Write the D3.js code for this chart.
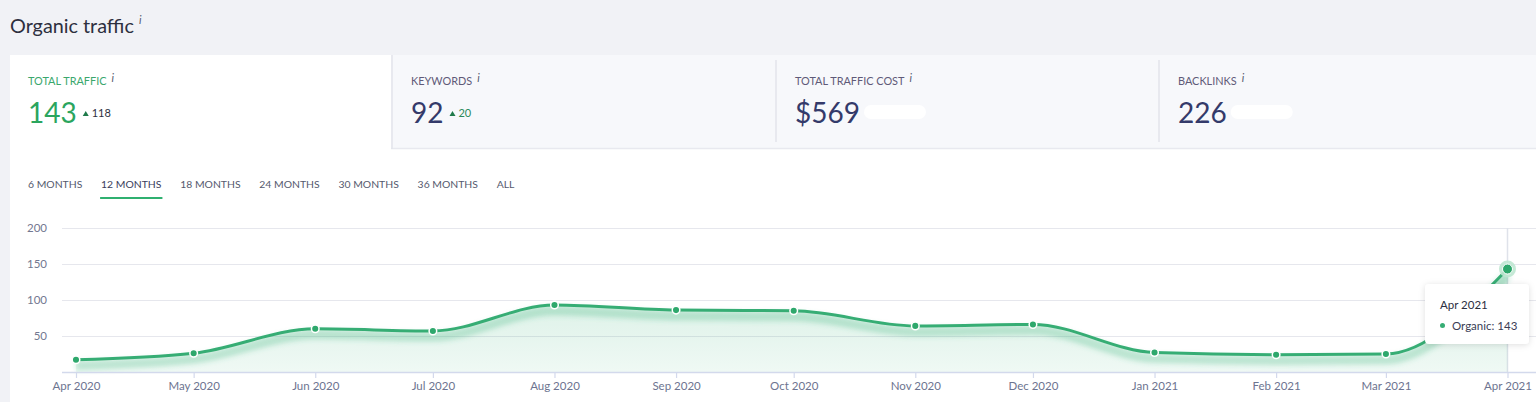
<!DOCTYPE html>
<html>
<head>
<meta charset="utf-8">
<script src="https://cdn.jsdelivr.net/npm/d3@7"></script>
<style>
  html, body { margin: 0; padding: 0; background: #f1f2f6; overflow: hidden; }
  svg { display: block; font-family: Lato, "Open Sans", sans-serif; }
</style>
</head>
<body>
<svg id="chart" width="1536" height="402"></svg>
<script>
// ---- data ----
const months = ["2020-04","2020-05","2020-06","2020-07","2020-08","2020-09","2020-10","2020-11","2020-12","2021-01","2021-02","2021-03","2021-04"];
const organic = [17, 26, 60, 57, 93, 86, 85, 64, 66, 27, 24, 25, 143];
const yTicks = [50, 100, 150, 200];
const tabs = ["6 MONTHS","12 MONTHS","18 MONTHS","24 MONTHS","30 MONTHS","36 MONTHS","ALL"];
const activeTab = "12 MONTHS";
const cardTitles = ["TOTAL TRAFFIC","KEYWORDS","TOTAL TRAFFIC COST","BACKLINKS"];
const cardValues = ["143","92","$569","226"];
const cardDeltas = ["118","20",null,null];
const title = "Organic traffic";
const seriesName = "Organic";

const parse = d3.timeParse("%Y-%m");
const data = months.map((m, i) => ({ date: parse(m), value: organic[i] }));

const svg = d3.select("#chart");
const W = 1536, H = 402;

// page background
svg.append("rect").attr("width", W).attr("height", H).attr("fill", "#f1f2f6");

// title
svg.append("text").attr("x", 10).attr("y", 33).attr("font-size", 19.8).attr("fill", "#2d2f3e").text(title);
svg.append("text").attr("x", 139).attr("y", 24).attr("font-size", 11).attr("font-style", "italic").attr("fill", "#555a6e").text("i");

// cards
const cardX = [10, 391, 775, 1158, 1536];
const defs = svg.append("defs");
const blurF = defs.append("filter").attr("id", "blur").attr("x", "-10%").attr("y", "-50%").attr("width", "120%").attr("height", "200%");
blurF.append("feGaussianBlur").attr("stdDeviation", 2.5);
const shF = defs.append("filter").attr("id", "shadow").attr("x", "-20%").attr("y", "-20%").attr("width", "140%").attr("height", "150%");
shF.append("feDropShadow").attr("dx", 0).attr("dy", 1).attr("stdDeviation", 3).attr("flood-color", "#000").attr("flood-opacity", 0.13);

// white panel for chart + first card
svg.append("rect").attr("x", 10).attr("y", 149).attr("width", W - 10).attr("height", H - 149).attr("fill", "#ffffff");
for (let i = 1; i < 4; i++) {
  svg.append("rect").attr("x", cardX[i]).attr("y", 55).attr("width", cardX[i+1] - cardX[i]).attr("height", 93).attr("fill", "#f7f8fb");
}
svg.append("line").attr("x1", 391).attr("x2", W).attr("y1", 148.5).attr("y2", 148.5).attr("stroke", "#e8e9ef").attr("stroke-width", 1.5);
svg.append("rect").attr("x", 10).attr("y", 55).attr("width", 381).attr("height", 100).attr("fill", "#ffffff");
[391, 775, 1158].forEach((x, i) => {
  svg.append("line").attr("x1", x + 1).attr("x2", x + 1).attr("y1", i === 0 ? 55 : 60).attr("y2", i === 0 ? 149 : 142)
    .attr("stroke", "#e3e5eb").attr("stroke-width", 1.5);
});

cardTitles.forEach((t, i) => {
  const x0 = cardX[i] + (i === 0 ? 18 : 20);
  const g = svg.append("g");
  const tt = g.append("text").attr("x", x0).attr("y", 85).attr("font-size", 10.9)
    .attr("fill", i === 0 ? "#3aa76d" : "#5f5a78").text(t);
  const tw = tt.node().getComputedTextLength();
  g.append("text").attr("x", x0 + tw + 5).attr("y", 82).attr("font-size", 11).attr("font-style", "italic")
    .attr("fill", "#555a6e").text("i");
  const vt = g.append("text").attr("x", x0).attr("y", 123).attr("font-size", 28)
    .attr("fill", i === 0 ? "#2ba55e" : "#343a6a").text(cardValues[i]);
  const vw = vt.node().getComputedTextLength();
  if (cardDeltas[i]) {
    const tx = x0 + vw + 6;
    g.append("path").attr("d", `M${tx},116 L${tx + 3},111 L${tx + 6},116 Z`).attr("fill", "#1f7a4a");
    g.append("text").attr("x", tx + 9).attr("y", 117).attr("font-size", 11)
      .attr("fill", i === 0 ? "#2d2f3e" : "#2a8a5a").text(cardDeltas[i]);
  } else {
    g.append("rect").attr("x", x0 + vw + 4).attr("y", 105).attr("width", 62).attr("height", 14).attr("rx", 7)
      .attr("fill", "#ffffff");
  }
});

// tabs
let tx = 28;
tabs.forEach(t => {
  const el = svg.append("text").attr("x", tx).attr("y", 188).attr("font-size", 10.4)
    .attr("fill", t === activeTab ? "#3a3d5c" : "#555a6e").text(t);
  const w = el.node().getComputedTextLength();
  if (t === activeTab) {
    svg.append("rect").attr("x", tx - 1).attr("y", 197).attr("width", w + 2).attr("height", 2).attr("fill", "#2fb070");
  }
  tx += w + 18.8;
});

// scales
const x = d3.scaleTime().domain([data[0].date, data[data.length - 1].date]).range([76, 1507.5]);
const y = d3.scaleLinear().domain([0, 200]).range([372, 228]);

// gridlines
svg.append("g").selectAll("line").data(yTicks).join("line")
  .attr("x1", 62).attr("x2", W).attr("y1", d => y(d) + 0.5).attr("y2", d => y(d) + 0.5)
  .attr("stroke", "#e6e7ed").attr("stroke-width", 1);

// y labels
const yAxis = d3.axisLeft(y).tickValues(yTicks).tickSize(0).tickPadding(0);
const yg = svg.append("g").attr("transform", "translate(47,0)").call(yAxis);
yg.select(".domain").remove();
yg.selectAll("text").attr("font-family", "Lato, sans-serif").attr("font-size", 11.5).attr("fill", "#737890");

// hover vertical line
const last = data[data.length - 1];
svg.append("line").attr("x1", x(last.date)).attr("x2", x(last.date)).attr("y1", y(200)).attr("y2", y(0))
  .attr("stroke", "#dfe2ea").attr("stroke-width", 1.5);

// area gradient
const grad = defs.append("linearGradient").attr("id", "areaGrad").attr("x1", 0).attr("y1", 0).attr("x2", 0).attr("y2", 1);
grad.append("stop").attr("offset", "0%").attr("stop-color", "#3cb37b").attr("stop-opacity", 0.22);
grad.append("stop").attr("offset", "100%").attr("stop-color", "#3cb37b").attr("stop-opacity", 0.08);

const curve = d3.curveMonotoneX;
const area = d3.area().x(d => x(d.date)).y0(y(0)).y1(d => y(d.value)).curve(curve);
const line = d3.line().x(d => x(d.date)).y(d => y(d.value)).curve(curve);

svg.append("path").datum(data).attr("d", area).attr("fill", "url(#areaGrad)");

// glow under line
svg.append("path").datum(data).attr("d", line).attr("transform", "translate(0,6)")
  .attr("fill", "none").attr("stroke", "#3cb37b").attr("stroke-opacity", 0.28).attr("stroke-width", 9)
  .attr("filter", "url(#blur)");

// x axis
const xAxis = d3.axisBottom(x).tickValues(data.map(d => d.date)).tickFormat(d3.timeFormat("%b %Y")).tickSize(6).tickPadding(4);
const xg = svg.append("g").attr("transform", `translate(0,${y(0)})`).call(xAxis);
xg.select(".domain").attr("d", `M62,0.5H${W}`).attr("stroke", "#d3d9ec").attr("stroke-width", 1.5);
xg.selectAll(".tick line").attr("stroke", "#d3d9ec").attr("stroke-width", 1.2);
xg.selectAll("text").attr("font-family", "Lato, sans-serif").attr("font-size", 11.5).attr("fill", "#6d7490");

// main line
svg.append("path").datum(data).attr("d", line).attr("fill", "none").attr("stroke", "#36ad74").attr("stroke-width", 3);

// points
svg.append("g").selectAll("circle").data(data.slice(0, -1)).join("circle")
  .attr("cx", d => x(d.date)).attr("cy", d => y(d.value)).attr("r", 3.8)
  .attr("fill", "#2ea86c").attr("stroke", "#ffffff").attr("stroke-width", 1.5);

// active point
svg.append("circle").attr("cx", x(last.date)).attr("cy", y(last.value)).attr("r", 8.5)
  .attr("fill", "#bfe7d2").attr("fill-opacity", 0.9);
svg.append("circle").attr("cx", x(last.date)).attr("cy", y(last.value)).attr("r", 5)
  .attr("fill", "#2ea86c").attr("stroke", "#ffffff").attr("stroke-width", 1);

// tooltip
const tip = svg.append("g");
tip.append("rect").attr("x", 1425).attr("y", 284).attr("width", 104).attr("height", 60).attr("rx", 4)
  .attr("fill", "#ffffff").attr("filter", "url(#shadow)");
tip.append("text").attr("x", 1440).attr("y", 309).attr("font-size", 11.5).attr("fill", "#2c2f3f")
  .text(d3.timeFormat("%b %Y")(last.date));
tip.append("circle").attr("cx", 1442.5).attr("cy", 325.5).attr("r", 2.5).attr("fill", "#36ad74");
tip.append("text").attr("x", 1452).attr("y", 329.5).attr("font-size", 11.5).attr("fill", "#3a3d55")
  .text(`${seriesName}: ${last.value}`);
</script>
</body>
</html>
